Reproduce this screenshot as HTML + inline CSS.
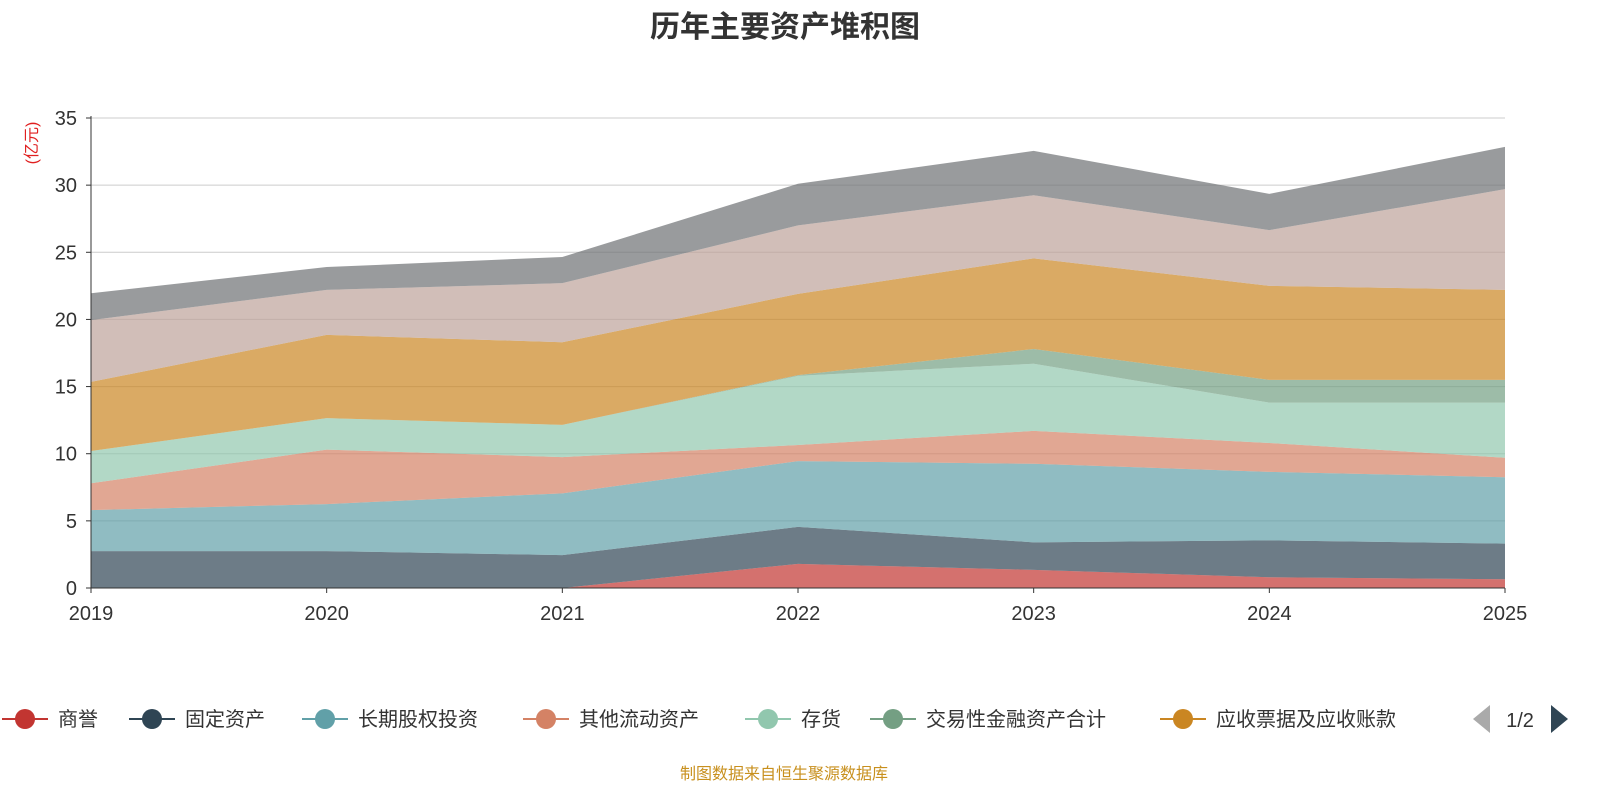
<!DOCTYPE html>
<html><head><meta charset="utf-8">
<style>
body{margin:0;background:#fff;font-family:"Liberation Sans","Noto Sans CJK SC",sans-serif;}
#wrap{position:relative;width:1600px;height:800px;overflow:hidden;}
</style></head>
<body>
<div id="wrap">
<svg id="chart" width="1600" height="800" xmlns="http://www.w3.org/2000/svg">
<text x="785" y="37" text-anchor="middle" font-size="30" font-weight="bold" fill="#333" font-family="Liberation Sans,Noto Sans CJK SC,sans-serif">历年主要资产堆积图</text>
<text transform="translate(37,143) rotate(-90)" text-anchor="middle" font-size="16" fill="#e02020" font-family="Liberation Sans,Noto Sans CJK SC,sans-serif">(亿元)</text>
<g id="grid"></g><g id="areas"></g><g id="axes"></g><g id="legend"></g>
<text x="784" y="779" text-anchor="middle" font-size="16" fill="#c8901e" font-family="Liberation Sans,Noto Sans CJK SC,sans-serif">制图数据来自恒生聚源数据库</text>
</svg>
</div>
<script>
const categories = ['2019','2020','2021','2022','2023','2024','2025'];
const seriesNames = ['商誉','固定资产','长期股权投资','其他流动资产','存货','交易性金融资产合计','应收票据及应收账款','货币资金','其他'];
const seriesColors = ['#c23531','#2f4554','#61a0a8','#d48265','#91c7ae','#749f83','#ca8622','#bda29a','#6e7074'];
const s0 = [0,0,0,1.8,1.35,0.8,0.65];
const s1 = [2.75,2.75,2.45,2.75,2.05,2.75,2.65];
const s2 = [3.05,3.5,4.6,4.9,5.85,5.1,4.95];
const s3 = [2.0,4.05,2.7,1.2,2.45,2.15,1.45];
const s4 = [2.4,2.35,2.4,5.15,5.0,3.0,4.1];
const s5 = [0,0,0,0.05,1.1,1.7,1.7];
const s6 = [5.15,6.2,6.15,6.05,6.75,7.0,6.7];
const s7 = [4.6,3.35,4.4,5.1,4.7,4.15,7.5];
const s8 = [2.0,1.7,1.95,3.1,3.3,2.7,3.15];
const seriesValues = [s0,s1,s2,s3,s4,s5,s6,s7,s8];
const yTicks = [0,5,10,15,20,25,30,35];

const NS='http://www.w3.org/2000/svg';
const X0=91,X1=1505,Y0=588,Y1=118,YMAX=35;
const xS=i=>X0+(X1-X0)*i/(categories.length-1);
const yS=v=>Y0-(Y0-Y1)*v/YMAX;
function mk(tag,attrs,parent){const e=document.createElementNS(NS,tag);for(const k in attrs)e.setAttribute(k,attrs[k]);parent.appendChild(e);return e;}
const grid=document.getElementById('grid'),areas=document.getElementById('areas'),axes=document.getElementById('axes'),legend=document.getElementById('legend');
yTicks.forEach(t=>{
  if(t>0){const l=mk('line',{x1:X0,x2:X1,y1:yS(t),y2:yS(t),stroke:'#ccc','stroke-width':1},grid);
  
  }
  const tx=mk('text',{x:X0-14,y:yS(t)+7,'text-anchor':'end','font-size':20,fill:'#333'},axes);
  tx.textContent=t;
  
  
  mk('line',{x1:X0-5,x2:X0,y1:yS(t),y2:yS(t),stroke:'#333'},axes);
});
let base=categories.map(()=>0);
seriesValues.forEach((vals,si)=>{
  const top=base.map((b,i)=>b+vals[i]);
  let d='M'+top.map((v,i)=>xS(i)+','+yS(v)).join(' L');
  for(let i=base.length-1;i>=0;i--)d+=' L'+xS(i)+','+yS(base[i]);
  d+='Z';
  const p=mk('path',{d:d,fill:seriesColors[si],'fill-opacity':0.7,stroke:'none'},areas);
  
  
  base=top;
});
mk('line',{x1:X0,x2:X0,y1:Y1-2,y2:Y0,stroke:'#333'},axes);
mk('line',{x1:X0,x2:X1,y1:Y0,y2:Y0,stroke:'#333'},axes);
categories.forEach((c,i)=>{
  mk('line',{x1:xS(i),x2:xS(i),y1:Y0,y2:Y0+5,stroke:'#333'},axes);
  const t=mk('text',{x:xS(i),y:620,'text-anchor':'middle','font-size':20,fill:'#333'},axes);
  t.textContent=c;
  
  
});
const legX=[25,152,325,546,768,893,1183];
for(let i=0;i<7;i++){
  const g=mk('g',{},legend);
  
  
  mk('line',{x1:legX[i]-23,x2:legX[i]+23,y1:719,y2:719,stroke:seriesColors[i],'stroke-width':2},g);
  mk('circle',{cx:legX[i],cy:719,r:10,fill:seriesColors[i]},g);
  const t=mk('text',{x:legX[i]+33,y:726,'font-size':20,fill:'#333'},g);
  t.textContent=seriesNames[i];
}
const pg=mk('g',{},legend);


mk('polygon',{points:'1490,705 1490,733 1473,719',fill:'#aaa'},pg);
const pt=mk('text',{x:1520,y:727,'text-anchor':'middle','font-size':20,fill:'#333'},pg);
pt.textContent='1/2';
mk('polygon',{points:'1551,705 1551,733 1568,719',fill:'#2f4554'},pg);
</script>
</body></html>
